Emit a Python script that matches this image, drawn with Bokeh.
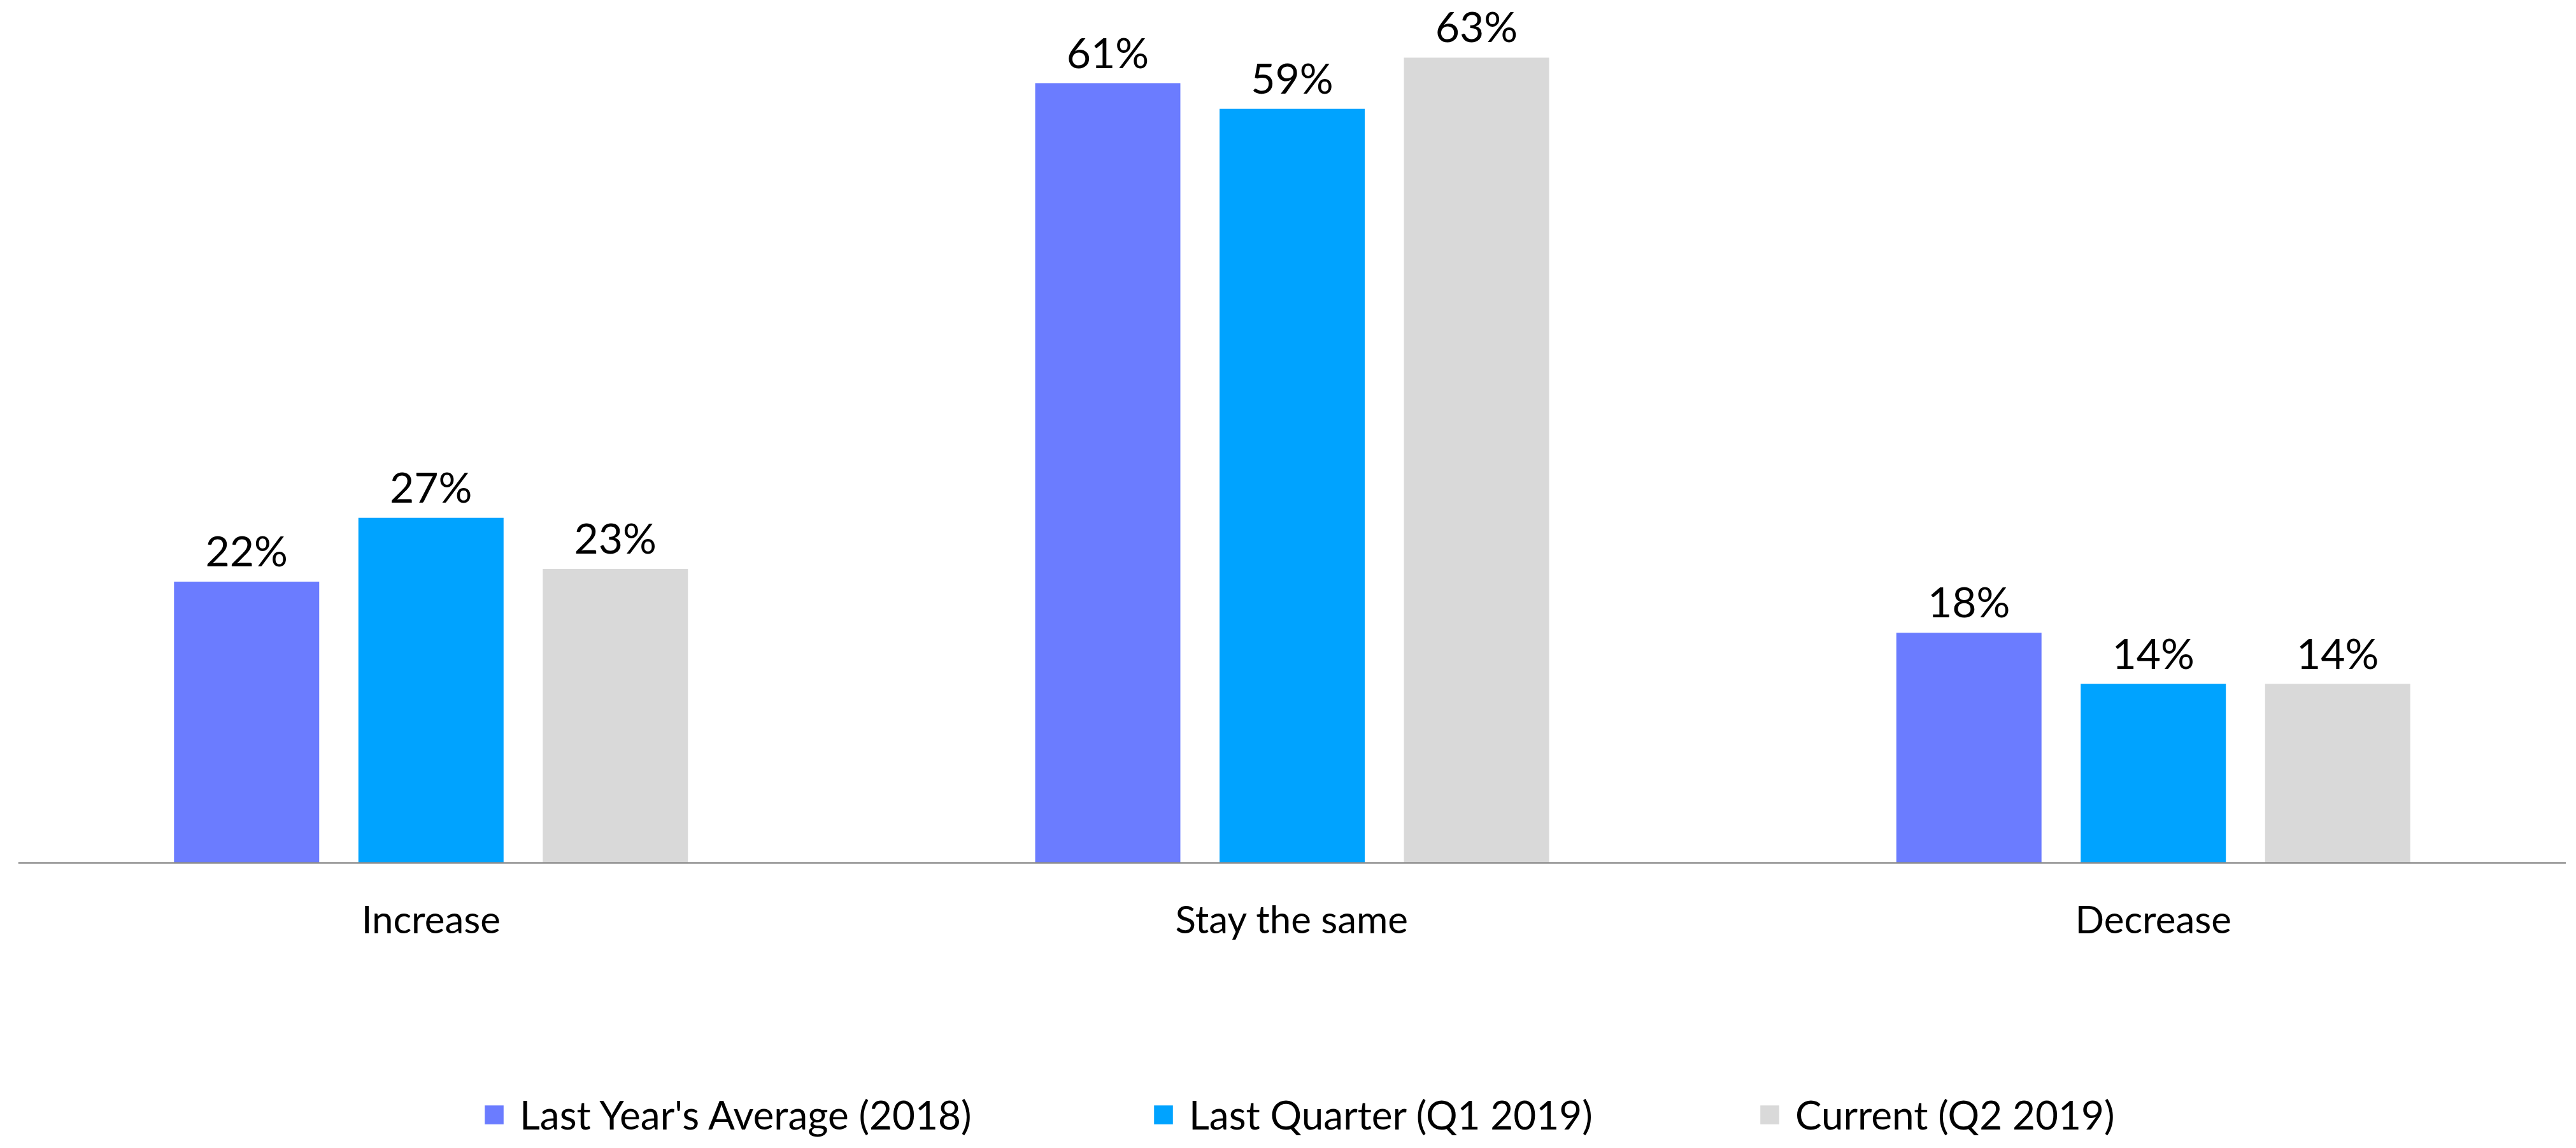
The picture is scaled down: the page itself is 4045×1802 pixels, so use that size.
from bokeh.plotting import figure
from bokeh.models import FactorRange, Range1d, ColumnDataSource, Legend, LegendItem, LabelSet
from bokeh.transform import dodge
from bokeh.core.properties import value
from bokeh.embed import file_html
from bokeh.resources import INLINE

# ---- data ----
categories = ["Increase", "Stay the same", "Decrease"]
series_names = ["Last Year's Average (2018)", "Last Quarter (Q1 2019)", "Current (Q2 2019)"]
last_year = [22, 61, 18]
last_quarter = [27, 59, 14]
current = [23, 63, 14]
colors = ["#6B7CFF", "#00A3FF", "#D9D9D9"]

# ---- layout ----
W, H = 4029, 1786
LEFT = 28
BASE_Y = 1354          # pixel row (from top of figure) of the zero line
PX_PER_PCT = 20.065
FONT = "Lato"

src = ColumnDataSource(dict(
    cat=categories,
    s0=last_year, s1=last_quarter, s2=current,
    l0=[f"{v}%" for v in last_year],
    l1=[f"{v}%" for v in last_quarter],
    l2=[f"{v}%" for v in current],
))

p = figure(
    width=W, height=H,
    x_range=FactorRange(factors=categories, range_padding=-0.0206, range_padding_units="absolute"),
    y_range=Range1d(-(H - BASE_Y) / PX_PER_PCT, BASE_Y / PX_PER_PCT),
    output_backend="svg", toolbar_location=None,
    y_axis_location=None,
    min_border_left=LEFT, min_border_right=0, min_border_top=0, min_border_bottom=0,
)
p.outline_line_color = None
p.xgrid.visible = False
p.ygrid.visible = False

ax = p.xaxis[0]
ax.fixed_location = 0
ax.axis_line_color = "#8E8E8E"
ax.axis_line_width = 2.5
ax.major_tick_line_color = None
ax.minor_tick_line_color = None
ax.major_label_text_font = FONT
ax.major_label_text_font_size = "60px"
ax.major_label_text_color = "#000000"
ax.major_label_standoff = 45

offsets = [-0.2141, 0.0, 0.2141]
keys = ["s0", "s1", "s2"]
lkeys = ["l0", "l1", "l2"]
renderers = []
for i in range(3):
    r = p.vbar(x=dodge("cat", offsets[i], range=p.x_range), top=keys[i], width=0.1686,
               source=src, fill_color=colors[i], line_color=None)
    renderers.append(r)
    labels = LabelSet(x=dodge("cat", offsets[i], range=p.x_range), y=keys[i], text=lkeys[i],
                      source=src, text_align="center", text_baseline="alphabetic", y_offset=24,
                      text_font=value(FONT), text_font_size="66px", text_color="#000000")
    p.add_layout(labels)

legend_x = [765 - 8 - LEFT, 1816 - 8 - LEFT, 2768 - 8 - LEFT]
for i in range(3):
    lg = Legend(items=[LegendItem(label=series_names[i], renderers=[renderers[i]])],
                location=(legend_x[i], 0), orientation="horizontal",
                glyph_width=37, glyph_height=37, label_standoff=22,
                label_text_font=FONT, label_text_font_size="62px", label_text_color="#000000",
                padding=0, margin=0, spacing=0,
                border_line_color=None, background_fill_alpha=0)
    p.add_layout(lg, "center")

open("out.html", "w").write(file_html(p, INLINE))
